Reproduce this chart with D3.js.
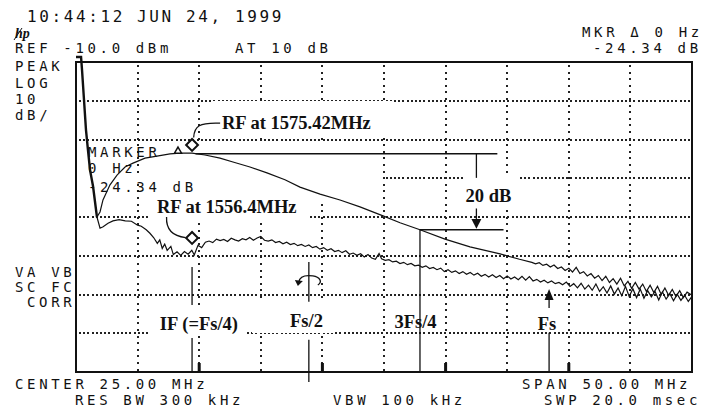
<!DOCTYPE html>
<html>
<head>
<meta charset="utf-8">
<script src="https://cdn.jsdelivr.net/npm/d3@7"></script>
<style>
body { margin: 0; background: #fff; }
svg { display: block; }
.hp { font-family: 'DejaVu Sans Mono', monospace; font-size: 14px; letter-spacing: 3.65px; fill: #111; }
.note { font-family: 'Liberation Serif', serif; font-weight: bold; font-size: 18.5px; fill: #111; }
</style>
</head>
<body>
<div id="chart"></div>
<script>
// spectrum analyser screen: 0..50 MHz, ref -10 dBm, 10 dB/div
var xGrid = [5, 10, 15, 20, 25, 30, 35, 40, 45]
var yGrid = [-20, -30, -40, -50, -60, -70, -80]
var combTicks = [10, 20, 30, 40]

// LO feedthrough at 0 Hz
var spike = [[0.0,-8.7],[0.41,-8.7],[0.49,-12.1],[0.65,-19.8],[0.81,-27.5],[0.97,-32.7],[1.14,-37.9],[1.38,-42.0],[1.70,-50.0]]

// RF at 1575.42 MHz (filter response, upper trace)
var rfTrace = [[1.70,-50.0],[1.95,-48.7],[2.19,-45.6],[2.76,-41.7],[3.33,-39.2],[3.98,-37.1],[4.63,-36.1],[5.60,-34.8],[6.57,-34.3],[7.63,-33.7],[8.44,-33.5],[9.42,-33.5],[10.47,-34.0],[11.69,-34.8],[12.74,-35.8],[14.12,-37.1],[15.50,-38.6],[16.96,-40.4],[18.18,-42.3],[19.81,-44.1],[21.43,-45.6],[23.05,-47.4],[24.92,-49.7],[26.30,-51.5],[27.92,-53.3],[29.95,-55.7],[31.98,-57.7],[34.42,-59.5],[36.0,-60.9],
  [37.0,-61.7],[37.3,-62.1],[37.6,-61.8],[37.9,-62.5],[38.2,-62.2],[38.5,-62.9],[38.8,-62.4],[39.1,-63.3],[39.4,-62.9],[39.7,-63.8],[40.0,-63.2],[40.3,-64.2],[40.6,-63.0],[40.9,-64.6],[41.2,-64.1],[41.5,-65.2],[41.8,-64.6],[42.1,-65.8],[42.4,-65.1],[42.7,-66.4],[43.0,-65.3],[43.3,-66.9],[43.6,-65.9],[43.9,-67.3],[44.2,-65.8],[44.5,-67.8],[44.8,-66.6],[45.1,-68.4],[45.4,-66.9],[45.7,-68.6],[46.0,-67.3],[46.3,-69.2],[46.6,-67.6],[46.9,-69.5],[47.2,-67.9],[47.5,-70.0],[47.8,-68.3],[48.1,-70.2],[48.4,-68.7],[48.7,-70.5],[49.0,-69.0],[49.3,-70.8],[49.6,-69.4],[50.0,-70.2]]

// RF at 1556.4 MHz (lower, noisy trace)
var ifTrace = [[1.70,-50.0],[1.95,-52.9],[2.2,-52.5],[2.6,-51.6],[3.0,-51.0],[3.5,-50.7],[4.0,-51.0],[4.5,-51.1],[5.0,-52.1],[5.3,-52.4],[5.7,-53.3],[6.0,-54.2],[6.3,-55.3],[6.6,-56.8],[6.8,-55.9],[7.0,-58.1],[7.2,-57.0],[7.4,-58.6],[7.7,-57.6],[7.9,-59.7],[8.2,-59.0],[8.5,-59.9],[8.8,-58.9],[9.1,-59.6],[9.4,-58.6],[9.6,-59.8],[9.9,-57.3],[10.2,-57.9],
  [10.5,-56.5],[10.8,-56.2],[11.1,-56.6],[11.4,-55.7],[11.7,-56.1],[12.0,-55.8],[12.3,-56.3],[12.6,-55.5],[12.9,-55.9],[13.2,-56.2],[13.5,-55.6],[13.8,-55.9],[14.1,-55.3],[14.4,-56.0],[14.7,-55.4],[15.0,-55.0],[15.3,-56.0],[15.6,-56.2],[15.9,-55.9],[16.2,-56.6],[16.5,-56.3],[16.8,-56.9],[17.1,-56.5],[17.4,-57.1],[17.7,-56.8],[18.0,-57.4],[18.3,-57.1],[18.6,-57.6],[18.9,-57.2],[19.2,-57.9],[19.5,-57.6],[19.8,-58.3],[20.1,-57.9],[20.4,-58.6],[20.7,-58.2],[21.0,-58.9],[21.3,-58.6],[21.6,-59.2],[21.9,-58.7],[22.2,-59.6],[22.5,-59.3],[22.8,-59.9],[23.1,-59.5],[23.4,-60.3],[23.7,-59.7],[24.0,-60.6],[24.3,-60.9],[24.6,-59.4],[24.8,-60.8],[25.1,-61.2],[25.4,-61.0],[25.7,-61.6],[26.0,-61.4],[26.3,-62.0],[26.6,-61.7],[26.9,-62.3],[27.2,-62.0],[27.5,-62.6],[27.8,-62.4],[28.1,-63.0],[28.4,-62.6],[28.7,-63.3],[29.0,-63.0],[29.3,-63.6],[29.6,-63.2],[29.9,-64.1],[30.2,-63.6],[30.5,-64.3],[30.8,-63.9],[31.1,-64.6],[31.4,-64.1],[31.7,-64.8],[32.0,-64.3],[32.3,-65.0],[32.6,-64.5],[32.9,-65.3],[33.2,-64.8],[33.5,-65.5],[33.8,-64.9],[34.1,-65.6],[34.4,-65.1],[34.7,-65.9],[35.0,-65.2],[35.3,-66.0],[35.6,-65.5],[35.9,-66.2],[36.2,-65.3],[36.5,-66.3],[36.8,-65.4],[37.1,-66.5],[37.4,-66.1],[37.7,-66.8],[38.0,-66.3],[38.3,-67.0],[38.6,-66.5],[38.9,-67.2],[39.2,-66.9],[39.5,-67.5],[39.8,-66.8],[40.1,-67.9],[40.4,-67.2],[40.7,-68.3],[41.0,-67.1],[41.3,-68.6],[41.6,-67.6],[41.9,-68.9],[42.2,-67.3],[42.5,-69.2],[42.8,-68.0],[43.1,-69.6],[43.4,-67.8],[43.7,-69.9],[44.0,-68.3],[44.3,-70.3],[44.6,-67.9],[44.9,-70.5],[45.2,-68.5],[45.5,-70.8],[45.8,-68.6],[46.1,-71.0],[46.4,-69.0],[46.7,-70.6],[47.0,-69.2],[47.3,-71.4],[47.6,-69.3],[47.9,-71.2],[48.2,-69.8],[48.5,-71.6],[48.8,-69.9],[49.1,-71.5],[49.4,-70.2],[49.7,-71.8],[50.0,-70.5]]

// frequency markers (MHz)
var fIF = 9.42, fHalf = 18.9, f3q = 27.92, fS = 38.4
var peakDb = -33.7, dropDb = -53.3

var screenText = [
  ['10:44:12 JUN 24, 1999', 27, 22, 'big'],
  ['REF -10.0 dBm', 15, 53], ['AT 10 dB', 235, 53],
  ['MKR \u0394 0 Hz', 582, 37], ['-24.34 dB', 593, 53],
  ['PEAK', 15, 71], ['LOG', 15, 88], ['10', 15, 103.5], ['dB/', 15, 119.5],
  ['MARKER', 88, 157], ['0 Hz', 88, 173], ['-24.34 dB', 88, 192],
  ['VA VB', 15, 277], ['SC FC', 15, 292], ['CORR', 27, 307],
  ['CENTER 25.00 MHz', 15, 389], ['RES BW 300 kHz', 75, 405],
  ['VBW 100 kHz', 333, 405], ['SPAN 50.00 MHz', 522, 389], ['SWP 20.0 msec', 544, 405]
]

var svg = d3.select('#chart').append('svg').attr('width', 704).attr('height', 410)
svg.append('rect').attr('width', 704).attr('height', 410).attr('fill', '#fff')

var x = d3.scaleLinear().domain([0, 50]).range([76, 692])
var y = d3.scaleLinear().domain([-90, -10]).range([372, 62])

// dotted graticule, one small square per dot
var dots = []
xGrid.forEach(v => d3.range(y(-10) + 3, y(-90) - 1, 6.6).forEach(py => dots.push([Math.round(x(v)) - 1, Math.round(py)])))
yGrid.forEach(v => d3.range(x(0) + 3, x(50) - 1, 4.2).forEach(px => dots.push([Math.round(px), Math.round(y(v)) - 1])))
svg.append('g').attr('fill', '#222').selectAll('rect').data(dots).join('rect')
  .attr('x', d => d[0]).attr('y', d => d[1]).attr('width', 2).attr('height', 2)

// white paste-ups that hide parts of the graticule
var pasteups = [[212,101,181,37],[195,142,188,36],[150,175,160,45],[78,174,72,8],[310,175,73,25],[463,176,56,30],[148,306,97,30],[252,303,82,30],[388,311,56,20],[530,310,32,22]]
svg.append('g').selectAll('rect').data(pasteups).join('rect')
  .attr('x', d => d[0]).attr('y', d => d[1]).attr('width', d => d[2]).attr('height', d => d[3])
  .attr('fill', '#fff')

// frame
svg.append('rect').attr('x', x(0)).attr('y', y(-10)).attr('width', x(50) - x(0)).attr('height', y(-90) - y(-10))
  .attr('fill', 'none').attr('stroke', '#111').attr('stroke-width', 2)

// comb markers along the bottom
svg.append('g').selectAll('rect').data(combTicks).join('rect')
  .attr('x', d => x(d) - 1.5).attr('y', y(-90) - 9).attr('width', 3).attr('height', 9).attr('fill', '#111')

var line = d3.line().x(d => x(d[0])).y(d => y(d[1]))

svg.append('path').datum(ifTrace).attr('d', line).attr('fill', 'none').attr('stroke', '#111').attr('stroke-width', 1.2)
svg.append('path').datum(rfTrace).attr('d', line).attr('fill', 'none').attr('stroke', '#111').attr('stroke-width', 1.2)
svg.append('path').datum(spike).attr('d', line).attr('fill', 'none').attr('stroke', '#111').attr('stroke-width', 2.4)

var ann = svg.append('g').attr('stroke', '#111').attr('stroke-width', 1.3).attr('fill', 'none')

// 20 dB bracket
ann.append('line').attr('x1', x(9.7)).attr('x2', x(34.2)).attr('y1', y(peakDb)).attr('y2', y(peakDb)).attr('stroke-width', 1.5)
ann.append('line').attr('x1', x(f3q)).attr('x2', x(34.7)).attr('y1', y(dropDb)).attr('y2', y(dropDb)).attr('stroke-width', 1.5)
ann.append('line').attr('x1', x(32.5)).attr('x2', x(32.5)).attr('y1', y(peakDb)).attr('y2', y(-39.9))
ann.append('line').attr('x1', x(32.5)).attr('x2', x(32.5)).attr('y1', y(-47.8)).attr('y2', y(-50.5))
svg.append('path').attr('fill', '#111')
  .attr('d', `M${x(32.5)},${y(dropDb) - 1}L${x(32.5) - 5},${y(-50.5)}L${x(32.5) + 5},${y(-50.5)}Z`)

// marker lines
ann.append('line').attr('x1', x(fIF)).attr('x2', x(fIF)).attr('y1', y(-62.9)).attr('y2', y(-72.7))
ann.append('line').attr('x1', x(fIF)).attr('x2', x(fIF)).attr('y1', y(-81.2)).attr('y2', y(-90))
ann.append('line').attr('x1', x(fHalf)).attr('x2', x(fHalf)).attr('y1', y(-61.6)).attr('y2', y(-71.9))
ann.append('line').attr('x1', x(fHalf)).attr('x2', x(fHalf)).attr('y1', y(-81.7)).attr('y2', y(-92.6))
ann.append('line').attr('x1', x(f3q)).attr('x2', x(f3q)).attr('y1', y(dropDb)).attr('y2', y(-90))
ann.append('line').attr('x1', x(fS)).attr('x2', x(fS)).attr('y1', y(-79.9)).attr('y2', y(-90))
ann.append('line').attr('x1', x(fS)).attr('x2', x(fS)).attr('y1', y(-70.0)).attr('y2', y(-73.5))
svg.append('path').attr('fill', '#111')
  .attr('d', `M${x(fS)},${y(-68.6)}L${x(fS) - 4.5},${y(-71.4)}L${x(fS) + 4.5},${y(-71.4)}Z`)

// rotation arrow round Fs/2
var cx = x(fHalf), cy = y(-66.5)
ann.append('path').attr('d', `M${cx - 10},${cy + 1}C${cx - 9},${cy - 5} ${cx - 3},${cy - 6} ${cx + 4},${cy - 5}C${cx + 11},${cy - 4} ${cx + 14},${cy + 1} ${cx + 9},${cy + 4}`)
svg.append('path').attr('fill', '#111')
  .attr('d', `M${cx - 11},${cy + 5}L${cx - 14},${cy - 1}L${cx - 6},${cy}Z`)

// label leaders
ann.append('path').attr('d', `M${x(11.7)},${y(-25.8)}C${x(10.0)},${y(-25.6)} ${x(9.6)},${y(-26.5)} ${x(9.55)},${y(-29.5)}`)
ann.append('path').attr('d', `M${x(7.35)},${y(-50.0)}C${x(7.3)},${y(-53.5)} ${x(8.0)},${y(-55.0)} ${x(8.9)},${y(-55.3)}`)

// diamonds and marker triangle
var diamond = d3.symbol().type(d3.symbolSquare).size(70)
svg.append('g').selectAll('path').data([[fIF, -31.4], [fIF, -55.4]]).join('path')
  .attr('d', diamond).attr('transform', d => `translate(${x(d[0])},${y(d[1])}) rotate(45)`)
  .attr('fill', '#fff').attr('stroke', '#111').attr('stroke-width', 2)
svg.append('path').attr('d', d3.symbol().type(d3.symbolTriangle).size(22))
  .attr('transform', `translate(${x(8.28)},${y(-33.0)})`)
  .attr('fill', '#fff').attr('stroke', '#111').attr('stroke-width', 1.5)

// serif annotation labels
var notes = [
  ['RF at 1575.42MHz', x(11.85), y(-27.3), 'start'],
  ['RF at 1556.4MHz', x(6.57), y(-49.0), 'start'],
  ['20 dB', x(33.48), y(-46.1), 'middle'],
  ['IF (=Fs/4)', x(9.98), y(-79.1), 'middle'],
  ['Fs/2', x(18.71), y(-78.4), 'middle'],
  ['3Fs/4', x(27.56), y(-78.6), 'middle'],
  ['Fs', x(38.23), y(-79.2), 'middle']
]
svg.append('g').selectAll('text').data(notes).join('text')
  .attr('class', 'note').attr('x', d => d[1]).attr('y', d => d[2]).attr('text-anchor', d => d[3])
  .text(d => d[0])

// instrument annotation text
svg.append('g').selectAll('text').data(screenText).join('text')
  .attr('class', 'hp').attr('x', d => d[1]).attr('y', d => d[2])
  .style('font-size', d => d[3] ? '16px' : null).style('letter-spacing', d => d[3] ? '2.6px' : null)
  .text(d => d[0])

// hp logo
svg.append('text').attr('x', 15).attr('y', 38)
  .attr('font-family', 'Liberation Serif').attr('font-style', 'italic').attr('font-weight', 'bold')
  .attr('font-size', 14).attr('fill', '#111').text('hp')
svg.append('line').attr('x1', 14).attr('y1', 40).attr('x2', 22).attr('y2', 28).attr('stroke', '#111').attr('stroke-width', 1)
</script>
</body>
</html>
